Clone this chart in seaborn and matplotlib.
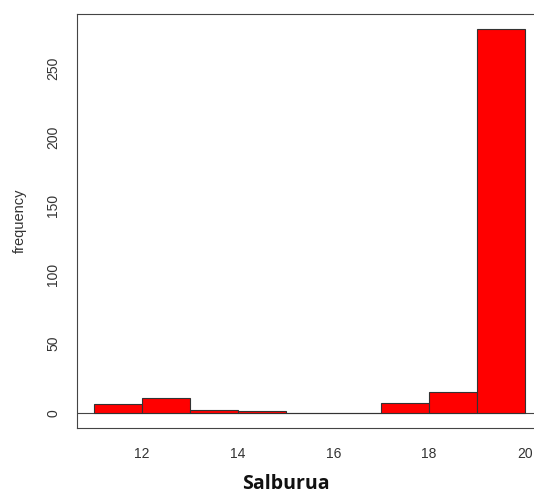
import numpy as np
import matplotlib
matplotlib.use("Agg")
import matplotlib.pyplot as plt
import seaborn as sns

# histogram bins
bin_edges = [11, 12, 13, 14, 15, 16, 17, 18, 19, 20]
counts = [6, 11, 2, 1, 0, 0, 7, 15, 278]
x_ticks = [12, 14, 16, 18, 20]
y_ticks = [0, 50, 100, 150, 200, 250]

sns.set_style("white")
plt.rcParams["font.family"] = ["Liberation Sans", "DejaVu Sans"]

mids = [(a + b) / 2 for a, b in zip(bin_edges[:-1], bin_edges[1:])]

fig = plt.figure(figsize=(5.34, 4.94), dpi=100)
ax = fig.add_axes([77 / 534, 66 / 494, 465 / 534, 414 / 494])

sns.histplot(x=mids, weights=counts, bins=bin_edges, color="#ff0000",
             edgecolor="#333333", linewidth=0.8, alpha=1, ax=ax)
ax.axhline(0, color="#444444", lw=0.8, zorder=0)

ax.set_xlim(10.64, 20.36)
ax.set_ylim(-11.1, 289.1)
ax.set_xticks(x_ticks)
ax.set_yticks(y_ticks)
ax.set_yticklabels([str(v) for v in y_ticks], rotation=90, va="center")
ax.tick_params(axis="both", length=6, width=0.8, color="#444444",
               labelsize=10, labelcolor="#333333", pad=8)
ax.tick_params(axis="y", pad=6)
for s in ax.spines.values():
    s.set_color("#444444")
    s.set_linewidth(0.8)

ax.set_xlabel("")
ax.set_ylabel("frequency", fontsize=10.5, color="#333333", labelpad=14)
fig.text(286 / 534, 1 - 484 / 494, "Salburua", fontsize=14, fontweight="bold",
         family="Open Sans", color="#111111", ha="center", va="center")

fig.savefig("out.png", dpi=100)
